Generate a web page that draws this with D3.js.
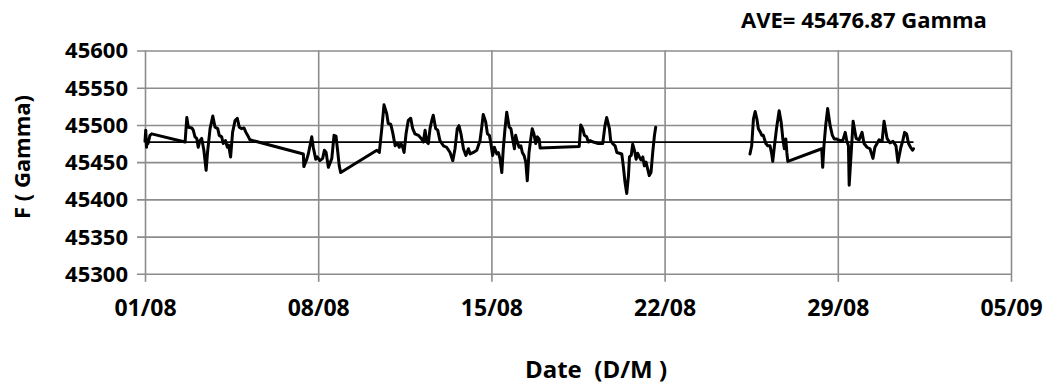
<!DOCTYPE html>
<html>
<head>
<meta charset="utf-8">
<script src="https://cdn.jsdelivr.net/npm/d3@7"></script>
<style>
  html, body { margin: 0; padding: 0; background: #fff; }
  svg text { font-family: "Open Sans", "DejaVu Sans", sans-serif; font-weight: 700; fill: #000; }
</style>
</head>
<body>
<svg id="chart" width="1051" height="387"></svg>
<script>
// Total magnetic field F (Gamma) against time, measured in days since 01/08 00:00.
// null marks the gap in the record.
const days = [
  0.00, 0.03, 0.06, 0.09, 0.12, 0.20, 0.27,
  1.62, 1.69, 1.75, 1.89, 1.95, 2.02, 2.09, 2.15, 2.22, 2.29, 2.38, 2.47, 2.53, 2.63, 2.74, 2.83, 2.94,
  3.00, 3.10, 3.16, 3.25, 3.33, 3.38, 3.46, 3.54, 3.64, 3.73, 3.81, 3.91, 4.00, 4.08, 4.18, 4.24,
  6.40, 6.42, 6.54, 6.60, 6.74, 6.80, 6.90, 6.96, 7.07, 7.18, 7.25, 7.32, 7.41, 7.48, 7.55, 7.64, 7.72,
  7.79, 7.85, 7.91,
  9.37, 9.47, 9.57, 9.66, 9.77, 9.83, 9.93, 10.01, 10.11, 10.20, 10.28, 10.34, 10.40, 10.47, 10.55,
  10.64, 10.74, 10.82, 10.91, 11.05, 11.18, 11.25, 11.32, 11.39, 11.45, 11.52, 11.59, 11.65, 11.75,
  11.83, 11.92, 12.06, 12.19, 12.33, 12.44, 12.53, 12.62, 12.69, 12.77, 12.87, 12.97, 13.07, 13.14,
  13.27, 13.41, 13.54, 13.61, 13.67, 13.77, 13.84, 13.92, 13.97, 14.05, 14.12, 14.22, 14.28, 14.35,
  14.42, 14.48, 14.55, 14.62, 14.72, 14.79, 14.86, 14.93, 14.98, 15.05, 15.12, 15.19, 15.25, 15.32,
  15.39, 15.45, 15.52, 15.59, 15.65, 15.72, 15.79, 15.86, 15.93, 15.97,
  17.55, 17.61, 17.69, 17.76, 17.85, 17.92, 17.99, 18.12, 18.32, 18.50, 18.59, 18.66, 18.77, 18.82,
  18.90, 19.00, 19.07, 19.17, 19.27, 19.33, 19.40, 19.47, 19.54, 19.58, 19.65, 19.71, 19.78, 19.85,
  19.91, 19.98, 20.05, 20.12, 20.18, 20.25, 20.30, 20.38, 20.45, 20.52, 20.59, 20.64,
  22.50,
  24.45, 24.52, 24.59, 24.66, 24.73, 24.79, 24.86, 24.93, 24.99, 25.09, 25.17, 25.26, 25.33, 25.37,
  25.44, 25.53, 25.63, 25.71, 25.78, 25.84, 25.90, 25.94, 25.98,
  27.35, 27.39, 27.44, 27.51, 27.59, 27.69, 27.78, 27.86, 27.96, 28.09, 28.20, 28.30, 28.36, 28.43,
  28.46, 28.62, 28.74, 28.86, 28.98, 29.06, 29.18, 29.30, 29.42, 29.50, 29.67, 29.79, 29.87, 29.99,
  30.11, 30.23, 30.35, 30.43, 30.55, 30.62, 30.70, 30.78, 30.86, 30.94, 31.02, 31.06
];
const fieldGamma = [
  45478, 45493, 45470, 45480, 45475, 45486, 45488,
  45477, 45510, 45497, 45496, 45493, 45484, 45482, 45470, 45479, 45482, 45466, 45439, 45464, 45495, 45512, 45497, 45495,
  45486, 45484, 45475, 45479, 45470, 45473, 45457, 45490, 45506, 45509, 45497, 45495, 45496, 45490, 45484, 45480,
  45461, 45444, 45454, 45461, 45484, 45470, 45454, 45457, 45452, 45455, 45466, 45463, 45443, 45449, 45455, 45486, 45485,
  45464, 45445, 45436,
  45466, 45463, 45495, 45527, 45515, 45502, 45501, 45490, 45472, 45475, 45470, 45475, 45472, 45463, 45488,
  45506, 45509, 45495, 45488, 45486, 45481, 45477, 45493, 45477, 45475, 45495, 45506, 45513, 45495,
  45493, 45479, 45472, 45470, 45463, 45452, 45468, 45495, 45499, 45488, 45468, 45459, 45468, 45461,
  45463, 45466, 45479, 45497, 45514, 45504, 45488, 45486, 45477, 45459, 45470, 45461, 45463, 45454,
  45436, 45468, 45495, 45517, 45497, 45495, 45481, 45468, 45486, 45477, 45470, 45472, 45463, 45459,
  45450, 45425, 45463, 45481, 45495, 45488, 45475, 45484, 45481, 45469,
  45471, 45500, 45495, 45486, 45484, 45477, 45479, 45477, 45475, 45475, 45499, 45510, 45495, 45479,
  45475, 45472, 45463, 45462, 45461, 45445, 45423, 45408, 45432, 45457, 45459, 45474, 45466, 45454,
  45462, 45457, 45453, 45457, 45445, 45450, 45443, 45432, 45436, 45463, 45486, 45497,
  null,
  45461, 45472, 45508, 45518, 45508, 45495, 45491, 45486, 45486, 45475, 45472, 45472, 45461, 45451,
  45472, 45497, 45519, 45504, 45481, 45468, 45481, 45463, 45451,
  45468, 45443, 45472, 45499, 45522, 45499, 45486, 45481, 45481, 45479, 45479, 45490, 45479, 45472,
  45419, 45505, 45482, 45480, 45490, 45475, 45470, 45468, 45455, 45470, 45480, 45478, 45505, 45482,
  45476, 45478, 45472, 45450, 45470, 45478, 45490, 45488, 45475, 45470, 45466, 45468
];
const averageGamma = 45476.87;

const xTickDays = [0, 7, 14, 21, 28, 35];
const xTickLabels = ["01/08", "08/08", "15/08", "22/08", "29/08", "05/09"];
const yTicks = [45300, 45350, 45400, 45450, 45500, 45550, 45600];

const svg = d3.select("#chart");
const plot = { left: 145, right: 1011, top: 50.5, bottom: 273.8 };

const x = d3.scaleLinear().domain([0, 35]).range([plot.left, plot.right]);
const y = d3.scaleLinear().domain([45300, 45600]).range([plot.bottom, plot.top]);

const gridColor = "#8c8c8c";

// horizontal grid with short ticks to the left of the plot
const yAxis = d3.axisLeft(y).tickValues(yTicks).tickFormat(d3.format("d"))
  .tickSize(-(plot.right - plot.left)).tickSizeOuter(0).tickPadding(17);
const gy = svg.append("g").attr("transform", `translate(${plot.left},0)`).call(yAxis);
gy.select(".domain").remove();
gy.selectAll(".tick line").attr("x1", -8).attr("stroke", gridColor).attr("stroke-width", 1.6);
gy.selectAll(".tick text").attr("font-size", 22).attr("dy", "0.34em");

// vertical grid with short ticks below the plot
const xAxis = d3.axisBottom(x).tickValues(xTickDays)
  .tickFormat((d, i) => xTickLabels[i])
  .tickSize(-(plot.bottom - plot.top)).tickSizeOuter(0).tickPadding(26);
const gx = svg.append("g").attr("transform", `translate(0,${plot.bottom})`).call(xAxis);
gx.select(".domain").remove();
gx.selectAll(".tick line").attr("y1", 8).attr("stroke", gridColor).attr("stroke-width", 1.6);
gx.selectAll(".tick text").attr("font-size", 23);

// measured field
const pts = days.map((d, i) => [d, fieldGamma[i]]);
const line = d3.line().defined(p => p[1] !== null).x(p => x(p[0])).y(p => y(p[1]));
svg.append("path").datum(pts)
  .attr("d", line).attr("fill", "none").attr("stroke", "#000")
  .attr("stroke-width", 3).attr("stroke-linejoin", "round").attr("stroke-linecap", "round");

// monthly average
svg.append("path")
  .datum([[days[0], averageGamma], [days[days.length - 1], averageGamma]])
  .attr("d", d3.line().x(p => x(p[0])).y(p => y(p[1])))
  .attr("stroke", "#000").attr("stroke-width", 1.8).attr("fill", "none");

// titles
svg.append("text").attr("x", 864).attr("y", 28).attr("text-anchor", "middle")
  .attr("font-size", 22).text(`AVE= ${averageGamma.toFixed(2)} Gamma`);

svg.append("text").attr("x", 596).attr("y", 378).attr("text-anchor", "middle")
  .attr("font-size", 24).style("white-space", "pre").text("Date  (D/M )");

svg.append("text").attr("transform", "translate(30,157) rotate(-90)")
  .attr("text-anchor", "middle").attr("font-size", 22).style("white-space", "pre").text("F ( Gamma)");
</script>
</body>
</html>
